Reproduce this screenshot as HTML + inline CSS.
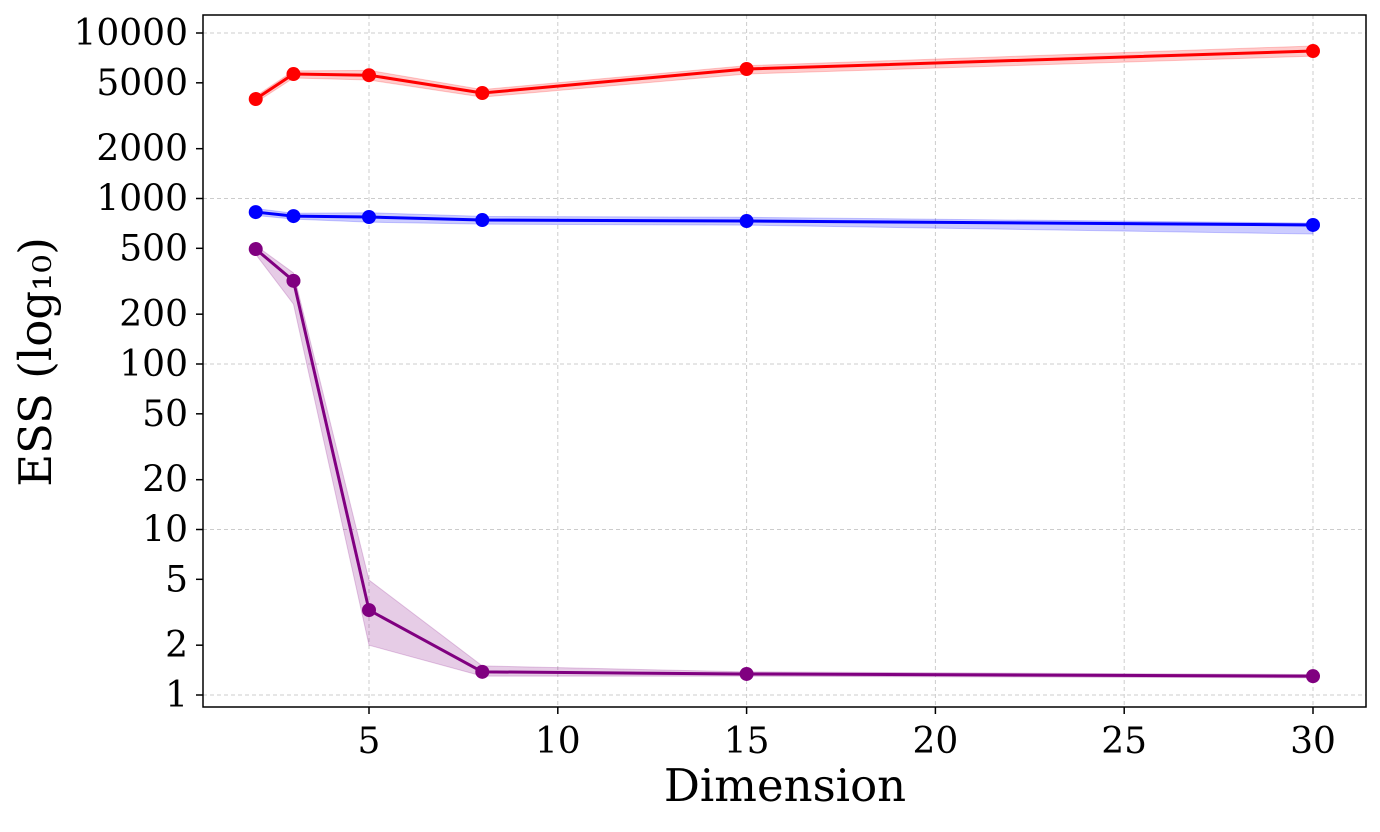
<!DOCTYPE html>
<html><head><meta charset="utf-8"><style>
body{margin:0;background:#fff}
svg text{font-family:"DejaVu Serif","Liberation Serif",serif;fill:#000}
</style></head><body>
<svg id="chart" width="1380" height="827" xmlns="http://www.w3.org/2000/svg">
<g id="grid"></g>
<g id="bands"></g>
<g id="lines"></g>
<rect x="203" y="15" width="1163" height="692" fill="none" stroke="#000" stroke-width="1.5"/>
<g id="axes"></g>
<text x="785" y="801" font-size="45" text-anchor="middle">Dimension</text>
<text transform="translate(51,362) rotate(-90)" font-size="45" text-anchor="middle">ESS (log₁₀)</text>
</svg>
<script>
const dims=[2,3,5,8,15,30];
const redVals=[3990,5650,5560,4340,6060,7780];
const redLo=[3800,5350,5200,4100,5650,7250];
const redHi=[4150,5900,5950,4550,6350,8350];
const blueVals=[828,783,773,741,731,692];
const blueLo=[790,750,720,700,690,610];
const blueHi=[870,815,820,780,770,710];
const purpleVals=[495,318,3.26,1.38,1.34,1.30];
const purpleLo=[460,230,2.0,1.30,1.30,1.27];
const purpleHi=[520,355,4.95,1.5,1.38,1.33];
const xTicks=[5,10,15,20,25,30];
const yTicks=[10000,5000,2000,1000,500,200,100,50,20,10,5,2,1];
const yGrid=[10000,1000,100,10,1];
const NS="http://www.w3.org/2000/svg";
const X=v=>180.2+v*37.76;
const Y=v=>695-Math.log10(v)*165.5;
function mk(p,t,a){const e=document.createElementNS(NS,t);for(const k in a)e.setAttribute(k,a[k]);p.appendChild(e);return e;}
const grid=document.getElementById('grid'),axes=document.getElementById('axes');
xTicks.forEach(t=>{
 const l=mk(grid,'line',{x1:X(t),x2:X(t),y1:15,y2:707,stroke:'#ccc','stroke-dasharray':'4,3','stroke-width':1});
 
 
 const k=mk(axes,'line',{x1:X(t),x2:X(t),y1:707,y2:714,stroke:'#000','stroke-width':1.5});
 
 
 const tx=mk(axes,'text',{x:X(t),y:753,'font-size':36,'text-anchor':'middle'});tx.textContent=t;
 
 
});
yGrid.forEach(t=>{
 const l=mk(grid,'line',{x1:203,x2:1366,y1:Y(t),y2:Y(t),stroke:'#ccc','stroke-dasharray':'4,3','stroke-width':1});
 
 
});
yTicks.forEach(t=>{
 const k=mk(axes,'line',{x1:196,x2:203,y1:Y(t),y2:Y(t),stroke:'#000','stroke-width':1.5});
 
 
 const tx=mk(axes,'text',{x:188,y:Y(t)+12,'font-size':36,'text-anchor':'end'});tx.textContent=t;
 
 
});
const bands=document.getElementById('bands'),lines=document.getElementById('lines');
function series(name,vals,lo,hi,col){
 const up=dims.map((d,i)=>X(d)+','+Y(hi[i])).join(' ');
 const dn=dims.map((d,i)=>X(d)+','+Y(lo[i])).reverse().join(' ');
 const b=mk(bands,'polygon',{points:up+' '+dn,fill:col,'fill-opacity':0.2,stroke:col,'stroke-opacity':0.2});
 
 
 const l=mk(lines,'polyline',{points:dims.map((d,i)=>X(d)+','+Y(vals[i])).join(' '),fill:'none',stroke:col,'stroke-width':3});
 
 
 dims.forEach((d,i)=>{const c=mk(lines,'circle',{cx:X(d),cy:Y(vals[i]),r:7,fill:col});
  
  });
}
series('red-series',redVals,redLo,redHi,'#ff0000');
series('blue-series',blueVals,blueLo,blueHi,'#0000ff');
series('purple-series',purpleVals,purpleLo,purpleHi,'#800080');
</script>
</body></html>
